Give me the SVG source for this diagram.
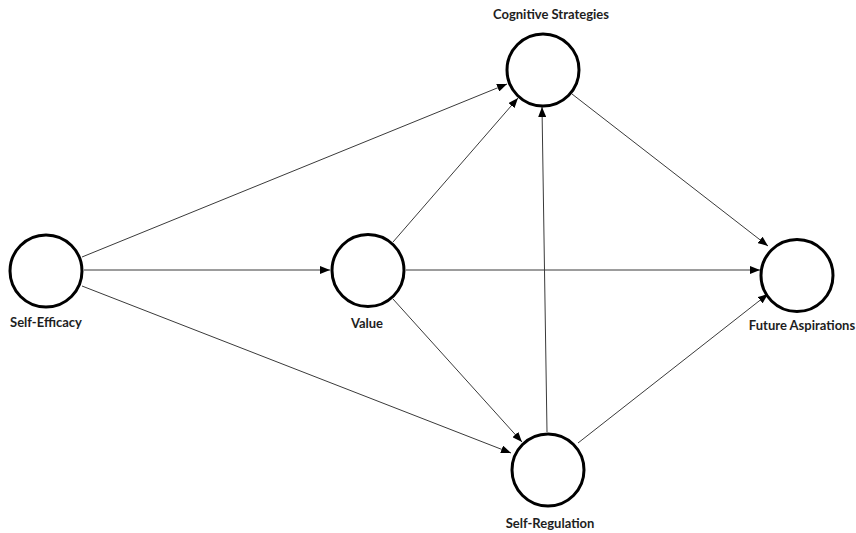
<svg xmlns="http://www.w3.org/2000/svg" width="856" height="533" viewBox="0 0 856 533">
  <style>
    .node circle { fill: #ffffff; stroke: #000000; stroke-width: 3; }
    .node text { font-family: Lato, "Open Sans", "Liberation Sans", sans-serif; font-weight: bold; font-size: 13px; fill: #1e1e1e; text-anchor: middle; }
    #edges line { stroke: #3a3a3a; stroke-width: 1; marker-end: url(#arrow); }
  </style>
  <defs>
    <marker id="arrow" viewBox="0 0 10 8" refX="10" refY="4" markerWidth="10" markerHeight="8" markerUnits="userSpaceOnUse" orient="auto">
      <path d="M0,0 L10,4 L0,8 Z" fill="#000000"/>
    </marker>
  </defs>
  <rect width="856" height="533" fill="#ffffff"/>

  <g id="edges">
    <!-- Self-Efficacy outgoing -->
    <line x1="82" y1="257" x2="507" y2="84"/>
    <line x1="84" y1="270" x2="330" y2="270"/>
    <line x1="82" y1="286" x2="511" y2="453"/>
    <!-- Value outgoing -->
    <line x1="393" y1="242" x2="518" y2="98"/>
    <line x1="406" y1="270" x2="760" y2="270"/>
    <line x1="393" y1="299" x2="522" y2="442"/>
    <!-- Self-Regulation outgoing -->
    <line x1="547" y1="432" x2="542" y2="107"/>
    <line x1="578" y1="443" x2="768" y2="294"/>
    <!-- Cognitive Strategies outgoing -->
    <line x1="572" y1="94" x2="768" y2="246"/>
  </g>

  <g id="self-efficacy" class="node">
    <circle cx="46" cy="271" r="36"/>
    <text x="46" y="327">Self-Efficacy</text>
  </g>
  <g id="value" class="node">
    <circle cx="368" cy="270.5" r="36"/>
    <text x="367" y="328">Value</text>
  </g>
  <g id="cognitive-strategies" class="node">
    <circle cx="543" cy="70" r="36"/>
    <text x="551" y="19">Cognitive Strategies</text>
  </g>
  <g id="self-regulation" class="node">
    <circle cx="548" cy="470" r="36"/>
    <text x="550" y="528">Self-Regulation</text>
  </g>
  <g id="future-aspirations" class="node">
    <circle cx="797" cy="275.5" r="36"/>
    <text x="802" y="330">Future Aspirations</text>
  </g>
</svg>
